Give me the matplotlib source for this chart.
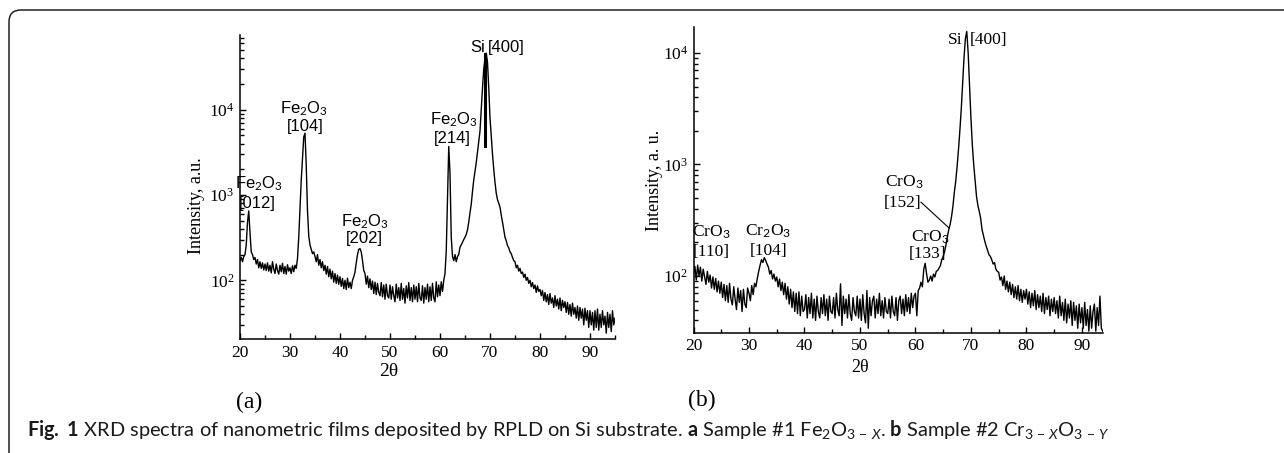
import numpy as np
import matplotlib
matplotlib.use('Agg')
import matplotlib.pyplot as plt
from matplotlib.ticker import LogLocator, NullFormatter, MultipleLocator
from matplotlib.patches import FancyBboxPatch

plt.rcParams['mathtext.fontset'] = 'custom'
plt.rcParams['mathtext.rm'] = 'Lato'
plt.rcParams['mathtext.it'] = 'Lato:italic'
plt.rcParams['mathtext.bf'] = 'Lato:bold'

# ---- data (2theta step 0.25 deg) ----
theta_a = np.arange(20.0, 95.01, 0.25)
counts_a = [
    170, 185, 165, 190, 200, 260, 480, 650, 360, 215, 200, 175, 185, 155, 175, 140, 165, 138, 160, 132,
    155, 130, 160, 128, 150, 122, 165, 135, 120, 155, 130, 118, 150, 126, 158, 120, 145, 118, 152, 128,
    140, 120, 148, 126, 150, 138, 180, 320, 700, 1500, 2700, 4800, 5300, 2200, 650, 330, 260, 230, 205, 215,
    190, 165, 200, 150, 175, 140, 165, 130, 150, 118, 145, 110, 135, 104, 128, 95, 120, 92, 115, 90,
    110, 85, 105, 80, 100, 78, 106, 82, 95, 80, 100, 110, 125, 160, 200, 230, 235, 215, 170, 130,
    120, 90, 112, 82, 104, 78, 98, 70, 95, 68, 92, 72, 66, 94, 64, 88, 60, 90, 66, 62,
    88, 60, 84, 66, 56, 90, 62, 82, 58, 92, 60, 80, 54, 86, 62, 94, 58, 82, 56, 88,
    60, 84, 56, 92, 62, 58, 86, 54, 82, 60, 90, 56, 84, 58, 92, 62, 56, 96, 64, 88,
    66, 96, 74, 100, 120, 220, 900, 3700, 1800, 320, 190, 170, 200, 165, 190, 200, 245, 260, 280, 300,
    320, 345, 390, 480, 620, 780, 1100, 1500, 1900, 2400, 3200, 4300, 5600, 10000, 18000, 30000, 40000, 46000, 36000, 18000,
    8000, 4800, 3000, 2000, 1400, 1050, 880, 800, 720, 580, 480, 390, 320, 290, 255, 240, 215, 205, 185, 170,
    165, 140, 150, 128, 138, 120, 125, 108, 118, 100, 108, 92, 100, 84, 94, 80, 88, 72, 86, 74,
    78, 66, 76, 58, 72, 56, 68, 52, 70, 54, 62, 48, 66, 50, 60, 46, 62, 44, 58, 48,
    56, 42, 55, 40, 52, 38, 54, 40, 48, 36, 50, 34, 48, 36, 46, 30, 47, 34, 44, 28,
    44, 30, 42, 26, 44, 28, 46, 26, 40, 28, 44, 30, 38, 24, 42, 28, 40, 25, 44, 30,
    36,
]

theta_b = np.arange(20.0, 93.76, 0.25)
counts_b = [
    105, 122, 92, 125, 100, 120, 90, 115, 98, 84, 110, 88, 102, 78, 98, 76, 95, 72, 90, 70,
    88, 64, 84, 60, 82, 58, 86, 62, 55, 80, 62, 50, 78, 58, 74, 48, 76, 56, 52, 78,
    70, 60, 82, 68, 86, 80, 95, 110, 125, 140, 132, 146, 138, 128, 120, 104, 112, 94, 104, 90,
    98, 80, 94, 74, 88, 68, 86, 62, 80, 56, 76, 52, 72, 48, 70, 46, 72, 44, 66, 48,
    50, 68, 42, 64, 46, 70, 42, 62, 40, 66, 48, 42, 64, 46, 68, 44, 62, 40, 66, 48,
    46, 64, 42, 70, 50, 44, 85, 36, 66, 46, 62, 42, 68, 46, 40, 64, 48, 44, 66, 42,
    62, 40, 68, 46, 38, 74, 34, 64, 44, 60, 66, 42, 62, 46, 70, 44, 60, 42, 64, 48,
    46, 62, 42, 66, 48, 44, 64, 40, 60, 66, 46, 62, 44, 68, 48, 64, 46, 70, 52, 66,
    70, 44, 74, 78, 88, 80, 115, 130, 105, 88, 92, 100, 90, 104, 98, 110, 112, 118, 124, 140,
    150, 165, 190, 225, 260, 290, 340, 420, 560, 700, 950, 1350, 2000, 3100, 5200, 9000, 13500, 15600, 10000, 5200,
    2600, 1500, 1000, 720, 520, 430, 380, 330, 260, 230, 205, 185, 170, 155, 150, 140, 128, 132, 115, 110,
    108, 92, 98, 82, 100, 76, 90, 72, 88, 68, 84, 64, 80, 62, 82, 60, 76, 58, 74, 62,
    76, 56, 72, 52, 70, 54, 74, 50, 68, 52, 66, 48, 70, 46, 64, 50, 66, 44, 62, 48,
    64, 46, 60, 42, 66, 44, 58, 40, 62, 38, 56, 42, 60, 36, 58, 40, 54, 34, 56, 38,
    52, 34, 58, 36, 50, 32, 54, 34, 48, 56, 32, 52, 36, 66, 34, 32,
]

# peak labels: (formula, index, x formula, y formula, x index, y index)
labels_a = [
    ("Fe$_2$O$_3$", "[012]", 23.7, 1350, 23.5, 800),
    ("Fe$_2$O$_3$", "[104]", 32.7, 10300, 33.0, 6300),
    ("Fe$_2$O$_3$", "[202]", 45.0, 490, 44.8, 305),
    ("Fe$_2$O$_3$", "[214]", 62.7, 7600, 62.5, 4650),
]
labels_b = [
    ("CrO$_3$", "[110]", 23.2, 245, 23.2, 163),
    ("Cr$_2$O$_3$", "[104]", 33.4, 250, 33.5, 168),
    ("CrO$_3$", "[152]", 58.0, 700, 57.7, 455),
    ("CrO$_3$", "[133]", 62.6, 222, 62.2, 157),
]

W, H = 1284, 453
fig = plt.figure(figsize=(W / 100, H / 100), dpi=100)

# rounded frame around the figure
frame = FancyBboxPatch((9, -30), 1320, H - 10 + 30, boxstyle="round,pad=0,rounding_size=12",
                       transform=None, fill=False, lw=1.1, ec='#222222')
fig.patches.append(frame)

serif = ['Liberation Serif', 'DejaVu Serif']
sans = ['Liberation Sans', 'DejaVu Sans']


def style_axes(ax, ymin, ymax, xmax, tsize):
    ax.set_yscale('log')
    ax.set_xlim(20, xmax)
    ax.set_ylim(ymin, ymax)
    for s in ['top', 'right']:
        ax.spines[s].set_visible(False)
    for s in ['left', 'bottom']:
        ax.spines[s].set_linewidth(1.1)
    ax.xaxis.set_major_locator(MultipleLocator(10))
    ax.xaxis.set_minor_locator(MultipleLocator(5))
    ax.yaxis.set_major_locator(LogLocator(base=10, numticks=10))
    ax.yaxis.set_minor_locator(LogLocator(base=10, subs=np.arange(2, 10), numticks=10))
    ax.yaxis.set_minor_formatter(NullFormatter())
    ax.tick_params(which='both', direction='in', width=1.0, pad=4, labelsize=tsize)
    ax.tick_params(which='major', length=4.5)
    ax.tick_params(which='minor', length=3)
    for lab in ax.get_xticklabels() + ax.get_yticklabels():
        lab.set_family(serif)


# ---- panel (a) ----
ax1 = fig.add_axes([240 / W, (H - 339) / H, 375 / W, 304 / H])
ax1.plot(theta_a, counts_a, color='black', lw=1.0)
style_axes(ax1, 20.5, 75000, 95, 12.5)
ax1.plot([69.0, 69.0], [3800, 45000], color='black', lw=2.2)
for f, idx, xf, yf, xi, yi in labels_a:
    ax1.text(xf, yf, f, ha='center', va='center', fontsize=12, family=sans)
    ax1.text(xi, yi, idx, ha='center', va='center', fontsize=12, family=sans)
ax1.text(67.5, 53000, "Si", ha='center', va='center', fontsize=12, family=sans)
ax1.text(73.2, 53000, "[400]", ha='center', va='center', fontsize=12, family=sans)
ax1.set_ylabel("Intensity, a.u.", family=serif, fontsize=13)
ax1.yaxis.set_label_coords(-0.093, 0.44)
fig.text(389 / W, 1 - 372 / H, "2θ", ha='center', va='center', fontsize=14, family=serif)
fig.text(249 / W, 1 - 402 / H, "(a)", ha='center', va='center', fontsize=17, family=serif)

# ---- panel (b) ----
ax2 = fig.add_axes([693.5 / W, (H - 332.7) / H, 409.5 / W, 305.4 / H])
ax2.plot(theta_b, counts_b, color='black', lw=1.0)
style_axes(ax2, 31, 17000, 93.8, 12.5)
for f, idx, xf, yf, xi, yi in labels_b:
    ax2.text(xf, yf, f, ha='center', va='center', fontsize=12.5, family=serif)
    ax2.text(xi, yi, idx, ha='center', va='center', fontsize=12.5, family=serif)
ax2.plot([61.0, 66.0], [459, 271], color='black', lw=0.8)
ax2.text(67.2, 13000, "Si", ha='center', va='center', fontsize=12.5, family=serif)
ax2.text(73.2, 13100, "[400]", ha='center', va='center', fontsize=12.5, family=serif)
ax2.set_ylabel("Intensity, a. u.", family=serif, fontsize=13)
ax2.yaxis.set_label_coords(-0.075, 0.5)
fig.text(860 / W, 1 - 367 / H, "2θ", ha='center', va='center', fontsize=13, family=serif)
fig.text(702 / W, 1 - 400 / H, "(b)", ha='center', va='center', fontsize=17, family=serif)

caption = (r"$\mathbf{Fig.}$ $\mathbf{1}$ XRD spectra of nanometric films deposited by RPLD on Si substrate. "
           r"$\mathbf{a}$ Sample #1 Fe$_2$O$_{3\,-\,X}$. $\mathbf{b}$ Sample #2 Cr$_{3\,-\,X}$O$_{3\,-\,Y}$")
fig.text(27 / W, 1 - 430 / H, caption, ha='left', va='center', fontsize=14.4, family='Lato', color='#1a1a1a')

fig.savefig('out.png', dpi=100)
